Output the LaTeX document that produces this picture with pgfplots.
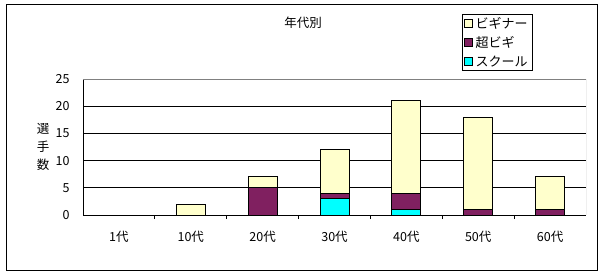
\documentclass[border=0pt]{standalone}
\usepackage{fontspec}
\setmainfont{Noto Sans CJK JP}
\usepackage{pgfplots}
\pgfplotsset{compat=1.18}
\definecolor{beg}{RGB}{255,255,204}
\definecolor{sbeg}{RGB}{128,32,96}
\definecolor{sch}{RGB}{0,255,255}
\begin{document}
\begin{tikzpicture}[x=1pt,y=1pt,font=\fontsize{12.5}{14}\selectfont]
\path[use as bounding box] (0,0) rectangle (602,276);
\draw[line width=1pt] (6,6) rectangle (597,271);
\node at (303,253) {年代別};
\begin{axis}[
  at={(83pt,61pt)}, anchor=south west,
  width=503pt, height=136pt, scale only axis,
  ybar stacked, bar width=29pt,
  xmin=-0.5, xmax=6.5, ymin=0, ymax=25,
  xtick={0,...,6},
  xticklabels={1代,10代,20代,30代,40代,50代,60代},
  minor xtick={0.5,1.5,...,5.5},
  ytick={0,5,...,25},
  ymajorgrids, grid style={black,line width=0.8pt},
  axis x line*=bottom, axis y line*=left,
  axis line style={black,line width=0.8pt},
  xtick align=outside, ytick align=inside,
  major x tick style={draw=none},
  minor x tick style={black,line width=0.8pt},
  major y tick style={black,line width=0.8pt},
  minor tick length=4pt, major tick length=5pt,
  xticklabel style={yshift=-8pt},
  yticklabel style={xshift=-10pt},
  /pgf/number format/assume math mode=true,
  ylabel={選\\手\\数},
  ylabel style={rotate=-90, align=center, at={(rel axis cs:0,0.5)}, anchor=center, xshift=-40pt, font=\fontsize{12.5}{18}\selectfont},
  reverse legend,
  legend cell align=left,
  legend style={at={(rel axis cs:0.7535,1.478)}, anchor=north west, draw=black, line width=0.8pt, inner xsep=2pt, inner ysep=2pt, row sep=4.5pt, font=\fontsize{13}{14}\selectfont,
    /tikz/every odd column/.append style={column sep=0pt},
    nodes={inner xsep=2.5pt, inner ysep=1pt}},
  legend image code/.code={\draw[#1,line width=0.6pt] (0pt,-4pt) rectangle (8pt,4pt);},
  every axis plot/.append style={draw=black,line width=1pt},
]
\addplot[fill=sch] coordinates {(0,0) (1,0) (2,0) (3,3) (4,1) (5,0) (6,0)};
\addplot[fill=sbeg] coordinates {(0,0) (1,0) (2,5) (3,1) (4,3) (5,1) (6,1)};
\addplot[fill=beg] coordinates {(0,0) (1,2) (2,2) (3,8) (4,17) (5,17) (6,6)};
\legend{スクール,超ビギ,ビギナー}
\draw[gray,line width=0.8pt] (rel axis cs:0,1) -- (rel axis cs:1,1) -- (rel axis cs:1,0);
\end{axis}
\end{tikzpicture}
\end{document}
